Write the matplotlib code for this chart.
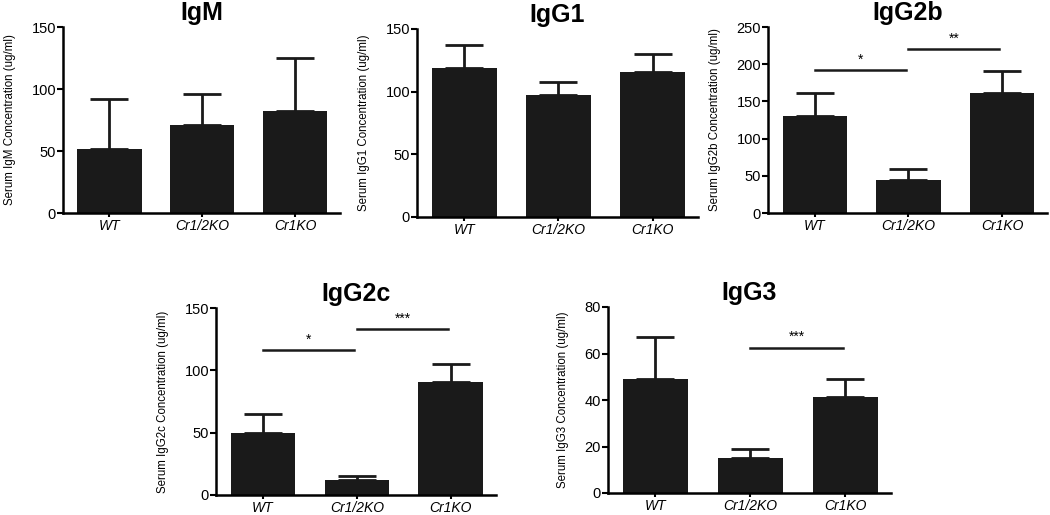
import numpy as np
import matplotlib.pyplot as plt

plt.rcParams['font.family'] = ['Liberation Sans', 'DejaVu Sans']

# groups
groups = ['WT', 'Cr1/2KO', 'Cr1KO']

# mean values and upper error (mean + SEM)
igm_mean = [52, 71, 82]
igm_top = [92, 96, 125]
igg1_mean = [119, 97, 116]
igg1_top = [137, 108, 130]
igg2b_mean = [131, 45, 161]
igg2b_top = [161, 59, 191]
igg2c_mean = [50, 12, 91]
igg2c_top = [65, 15, 105]
igg3_mean = [49, 15, 41.5]
igg3_top = [67, 19, 49]

W, H = 1050, 515
fig = plt.figure(figsize=(W / 100, H / 100), dpi=100)


def px_axes(left, right, top, bottom):
    return fig.add_axes([left / W, 1 - bottom / H, (right - left) / W, (bottom - top) / H])


def panel(ax, title, mean, top, ymax, step, sigs):
    x = np.arange(len(groups))
    err = np.array(top) - np.array(mean)
    ax.bar(x, mean, width=0.69, color='#1a1a1a', zorder=2)
    ax.errorbar(x, mean, yerr=[np.zeros(3), err], fmt='none', ecolor='#1a1a1a',
                elinewidth=2, capsize=14, capthick=2, zorder=1)
    ax.set_xlim(-0.5, 2.48)
    ax.set_ylim(0, ymax)
    ax.set_yticks(np.arange(0, ymax + 1, step))
    ax.set_xticks(x)
    ax.set_xticklabels(groups, fontstyle='italic', fontsize=10)
    ax.tick_params(axis='y', labelsize=10.5, width=1.5, length=4, pad=1)
    ax.tick_params(axis='x', width=1.5, length=3, pad=1)
    for s in ['top', 'right']:
        ax.spines[s].set_visible(False)
    for s in ['left', 'bottom']:
        ax.spines[s].set_linewidth(1.8)
    ax.set_title(title, fontsize=18, fontweight='bold', pad=5)
    ax.set_ylabel('Serum %s Concentration (ug/ml)' % title, fontsize=8.3, labelpad=11)
    for (a, b, yv, lab) in sigs:
        ax.plot([a, b], [yv, yv], color='#1a1a1a', lw=1.8, clip_on=False)
        ax.text((a + b) / 2, yv + ymax * 0.02, lab, ha='center', va='bottom', fontsize=10)


ax1 = px_axes(63, 340, 27, 213)
panel(ax1, 'IgM', igm_mean, igm_top, 150, 50, [])
ax2 = px_axes(417, 698, 29, 217)
panel(ax2, 'IgG1', igg1_mean, igg1_top, 150, 50, [])
ax3 = px_axes(768, 1047, 27, 213)
panel(ax3, 'IgG2b', igg2b_mean, igg2b_top, 250, 50,
      [(0, 0.97, 192, '*'), (1.0, 1.97, 220, '**')])
ax4 = px_axes(216, 496, 308, 495)
panel(ax4, 'IgG2c', igg2c_mean, igg2c_top, 150, 50,
      [(0, 0.97, 116, '*'), (1.0, 1.97, 133, '***')])
ax5 = px_axes(608, 891, 307, 493)
panel(ax5, 'IgG3', igg3_mean, igg3_top, 80, 20,
      [(1.0, 1.97, 62.5, '***')])

fig.savefig('out.png', dpi=100)
